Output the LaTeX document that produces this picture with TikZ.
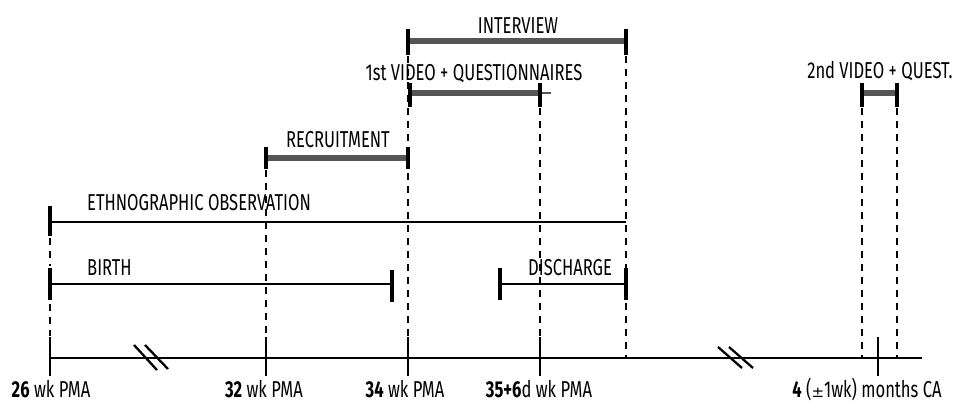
\documentclass[tikz,border=0pt]{standalone}
\usepackage{fontspec}
\setmainfont[FakeStretch=0.72]{Fira Sans}
\definecolor{barcol}{HTML}{555555}
\begin{document}
\begin{tikzpicture}[x=1pt,y=-1pt,
  axisline/.style={line width=2.3pt},
  span/.style={line width=2.3pt},
  thickbar/.style={line width=6.5pt, draw=barcol},
  capline/.style={line width=3.6pt},
  guide/.style={line width=2pt, dash pattern=on 7pt off 6pt},
  tickline/.style={line width=2.3pt},
  lbl/.style={font=\fontsize{23}{26}\selectfont, inner sep=0pt, anchor=base}]
\useasboundingbox (0,0) rectangle (955,402);
% timeline coordinates
\coordinate (a0) at (50,358);
\coordinate (a1) at (922,358);
\coordinate (t26) at (50,358);
\coordinate (t32) at (266,358);
\coordinate (t34) at (408,358);
\coordinate (t35) at (540,358);
\coordinate (t4m) at (878,358);
\coordinate (d626) at (626,358);
\coordinate (d862) at (862,358);
\coordinate (d897) at (897,358);
% axis
\draw[axisline] (a0) -- (a1);
\foreach \t in {t32,t34,t35,t4m}{
  \draw[tickline] ([yshift=21pt]\t) -- ([yshift=-18pt]\t);
}
\draw[tickline] ([yshift=21pt]t26) -- ([yshift=-18pt]t26);
% breaks
\coordinate (b1a) at (134,345); \coordinate (b1b) at (157,370);
\coordinate (b1c) at (145,345); \coordinate (b1d) at (168,369);
\coordinate (b2a) at (718,347); \coordinate (b2b) at (742,368);
\coordinate (b2c) at (729,347); \coordinate (b2d) at (753,368);
\draw[line width=2.3pt] (b1a) -- (b1b);
\draw[line width=2.3pt] (b1c) -- (b1d);
\draw[line width=2.3pt] (b2a) -- (b2b);
\draw[line width=2.3pt] (b2c) -- (b2d);
% axis labels
\node[lbl] (l26) at (51,397) {\textbf{26} wk PMA};
\node[lbl] (l32) at (264,397) {\textbf{32} wk PMA};
\node[lbl] (l34) at (405,397) {\textbf{34} wk PMA};
\node[lbl] (l35) at (539,397) {\textbf{35+6}d wk PMA};
\node[lbl] (l4m) at (867,397) {\textbf{4} ({\fontspec{DejaVu Sans}\fontsize{15}{17}\selectfont ±}1wk) months CA};
% ---- BIRTH
\coordinate (bi0) at (50,284); \coordinate (bi1) at (392,284);
\draw[span] (bi0) -- (bi1);
\draw[capline] (50,268) -- (50,300);
\draw[capline] (392,270) -- (392,302);
\node[lbl, anchor=base west] (lbirth) at (87,275) {BIRTH};
% ---- ETHNOGRAPHIC
\coordinate (et0) at (50,222); \coordinate (et1) at (626,222);
\draw[span] (et0) -- (et1);
\draw[capline] (50,206) -- (50,236);
\node[lbl, anchor=base west] (leth) at (87,210) {ETHNOGRAPHIC OBSERVATION};
% ---- DISCHARGE
\coordinate (di0) at (500,284); \coordinate (di1) at (626,284);
\draw[span] (di0) -- (di1);
\draw[capline] (500,268) -- (500,300);
\draw[capline] (626,268) -- (626,300);
\node[lbl, anchor=base west] (ldis) at (528,275) {DISCHARGE};
% ---- RECRUITMENT
\coordinate (re0) at (266,158); \coordinate (re1) at (408,158);
\draw[thickbar] (re0) -- (re1);
\draw[capline] (266,147) -- (266,169);
\draw[capline] (408,147) -- (408,169);
\node[lbl] (lrec) at (338,147) {RECRUITMENT};
% ---- INTERVIEW
\coordinate (in0) at (408,41); \coordinate (in1) at (626,41);
\draw[thickbar] (in0) -- (in1);
\draw[capline] (408,29) -- (408,55);
\draw[capline] (626,29) -- (626,55);
\node[lbl] (lint) at (518,33) {INTERVIEW};
% ---- 1st VIDEO
\coordinate (v10) at (410,93); \coordinate (v11) at (540,93); \coordinate (v1s) at (551,93);
\draw[barcol, line width=2pt] (v11) -- (v1s);
\draw[thickbar] (v10) -- (v11);
\draw[capline] (410,83) -- (410,107);
\draw[capline] (540,83) -- (540,107);
\node[lbl] (lv1) at (474,80) {1st VIDEO + QUESTIONNAIRES};
% ---- 2nd VIDEO
\coordinate (v20) at (862,93); \coordinate (v21) at (897,93);
\draw[thickbar] (v20) -- (v21);
\draw[capline] (862,83) -- (862,107);
\draw[capline] (897,83) -- (897,107);
\node[lbl] (lv2) at (880,78) {2nd VIDEO + QUEST.};
% ---- dashed guides
\draw[guide] (50,238) -- (50,266);
\draw[guide] (50,304) -- (50,336);
\draw[guide] (266,170) -- (266,337);
\draw[guide] (408,56) -- (408,337);
\draw[guide] (540,108) -- (540,337);
\draw[guide] (626,56) -- (d626);
\draw[guide] (862,108) -- (d862);
\draw[guide] (897,108) -- (d897);
\end{tikzpicture}
\end{document}
